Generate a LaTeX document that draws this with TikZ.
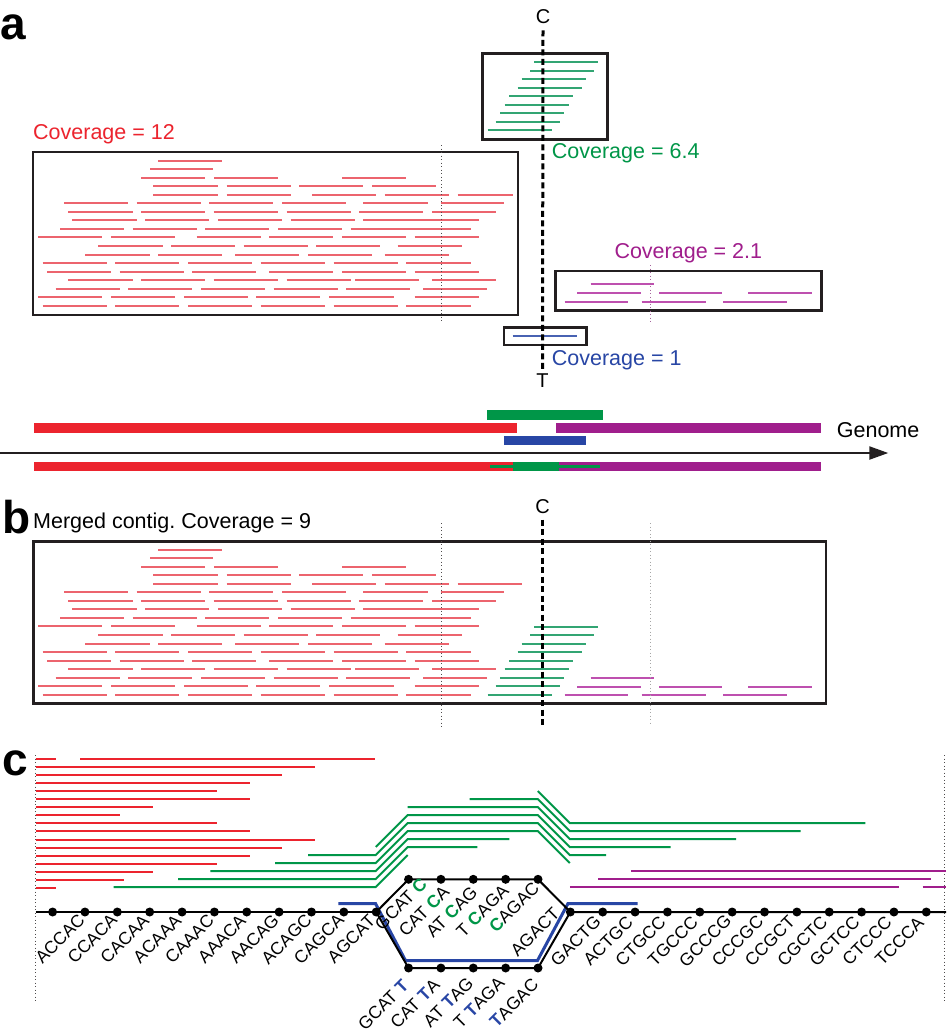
\documentclass[tikz,border=0pt]{standalone}
\usepackage{fontspec}
\setmainfont{Liberation Sans}
\usetikzlibrary{arrows.meta}
\definecolor{rd}{RGB}{236,36,46}
\definecolor{rdread}{RGB}{236,100,110}
\definecolor{gn}{RGB}{0,150,72}
\definecolor{gnread}{RGB}{50,165,115}
\definecolor{mg}{RGB}{160,30,140}
\definecolor{mgread}{RGB}{190,80,175}
\definecolor{bl}{RGB}{40,70,165}
\definecolor{dk}{RGB}{35,31,32}
\frenchspacing
\begin{document}
\begin{tikzpicture}[x=1pt,y=-1pt,
  cbox/.style={draw=dk,line width=2.8pt},
  rread/.style={draw=rdread,line width=1.8pt},
  gread/.style={draw=gnread,line width=1.8pt},
  mread/.style={draw=mgread,line width=1.8pt},
  bread/.style={draw=bl!85,line width=1.8pt},
  cdash/.style={draw=black,line width=3pt,dash pattern=on 6pt off 3.5pt},
  vdot/.style={draw=dk!80,line width=0.9pt,dash pattern=on 1pt off 2.5pt},
  cov/.style={font=\fontsize{21.5}{24}\selectfont,anchor=base west,inner sep=0pt},
  plabel/.style={font=\fontsize{46}{50}\selectfont\bfseries,anchor=base west,inner sep=0pt},
  letter/.style={font=\fontsize{20}{22}\selectfont,anchor=base,inner sep=0pt},
  kdot/.style={circle,fill=black,inner sep=0pt,minimum size=9pt},
  kmer/.style={font=\fontsize{17.5}{20}\selectfont,rotate=45,inner sep=0pt},
  gline/.style={draw=black,line width=2pt},
  cred/.style={draw=rd,line width=2pt},
  cgreen/.style={draw=gn,line width=2pt},
  cmag/.style={draw=mg,line width=2pt},
  bpath/.style={draw=bl,line width=3pt},
]
\useasboundingbox (0,0) rectangle (946,1034);
\fill[white] (0,0) rectangle (946,1034);

% ---------------- red reads (panel a offset 0, panel b offset 389)
\foreach \off/\lastend in {0/1479,389/1505}{
 \foreach \r/\segs in {1/{415/607},2/{390/580},3/{363/555,582/773,967/1158},
  4/{400/594,620/812,838/1030,1056/1248},
  5/{400/594,620/812,876/1068,1094/1287,1313/\lastend},
  6/{132/324,350/542,568/760,786/979,1030/1223,1262/1453},
  7/{145/338,363/555,581/774,800/992,1018/1210,1236/1428},
  8/{157/350,375/568,594/786,812/1004,1030/1378},
  9/{120/312,338/530,555/748,774/967,992/1352},
  10/{55/247,273/466,530/722,748/940,966/1159,1184/1378},
  11/{235/428,453/645,671/863,888/1081,1133/1326},
  12/{196/389,414/607,646/838,864/1056,1094/1287},
  13/{68/260,286/478,505/697,722/914,941/1133,1158/1352},
  14/{81/273,299/491,517/709,748/940,966/1159,1184/1378},
  15/{145/338,363/555,581/774,800/992,1005/1198,1236/1428},
  16/{107/299,325/517,543/735,761/953,979/1171,1210/1402},
  17/{55/247,273/466,492/684,709/901,928/1121,1184/1378},
  18/{68/260,286/478,505/697,722/914,941/1133,1158/1352}}{
  \pgfmathsetmacro{\yy}{round(160.7+8.53*(\r-1)+\off)}
  \foreach \a/\b in \segs {
   \draw[rread] ({20+\a/3},\yy) -- ({20+\b/3},\yy);
  }
 }
}
% green reads
\foreach \off in {0,564.5}{
 \foreach \i/\a/\b in {0/193/385,1/180/373,2/155/347,3/143/335,4/117/309,5/104/296,6/90/283,7/77/270,8/53/245}{
  \pgfmathsetmacro{\yy}{round(62.3+8.5*\i+\off)}
  \draw[gread] ({470+\a/3},\yy) -- ({470+\b/3},\yy);
 }
}
% magenta reads
\foreach \off in {0,393.8}{
 \foreach \i/\a/\b in {0/362/552,1/322/512,1/567/757,1/835/1027,2/284/475,2/515/707,2/760/950}{
  \pgfmathsetmacro{\yy}{round(284.3+8.6*\i+\off)}
  \draw[mread] ({470+\a/3},\yy) -- ({470+\b/3},\yy);
 }
}
% blue read
\draw[bread] (512.7,336) -- (577.3,336);

% ---------------- panel a boxes and labels
\node[plabel] (la) at (0,39) {a};
\draw[cbox] (33,152) rectangle (518,315);
\draw[cbox] (482.7,53.3) rectangle (607.3,139.3);
\draw[cbox] (555.7,271) rectangle (821.7,310.7);
\draw[cbox] (504,327.3) rectangle (586.3,345);
\node[cov,text=rd] (cov12) at (33,139) {Coverage = 12};
\node[cov,text=gn] (cov64) at (551.7,158.3) {Coverage = 6.4};
\node[cov,text=mg] (cov21) at (614.3,258) {Coverage = 2.1};
\node[cov,text=bl] (cov1) at (551.7,365) {Coverage = 1};
\draw[vdot] (441,145) -- (441,323);
\draw[vdot,draw=mgread!60!gray] (650,265) -- (650,323);
\node[letter] (Ca) at (543,23) {C};
\node[letter] (Ta) at (542.5,387) {T};
\draw[cdash] ([yshift=-7pt]Ca.south) -- ([yshift=2pt]Ta.north);

% ---------------- genome bars
\fill[gn] (487,410) rectangle (603,420);
\fill[rd] (34,423) rectangle (517,433);
\fill[mg] (556,423) rectangle (821,433);
\fill[bl] (504,436) rectangle (586,445);
\coordinate (g0) at (0,453);
\coordinate (g1) at (888.3,453);
\draw[line width=2.2pt,dk,-{Triangle[length=19pt,width=13pt]}] (g0) -- (g1);
\node[cov] (genome) at (836.7,437.3) {Genome};
\fill[rd] (34,462) rectangle (513.3,471);
\fill[gn] (513.3,462) rectangle (559.3,471);
\fill[mg] (559.3,462) rectangle (821,471);
\draw[gn,line width=3pt] (490,466.5) -- (600,466.5);

% ---------------- panel b
\node[plabel] (lb) at (2,533) {b};
\node[cov] (merged) at (33,528.3) {Merged contig. Coverage = 9};
\draw[cbox] (33.3,541.7) rectangle (826,703.3);
\draw[vdot] (441,523) -- (441,727);
\draw[vdot,draw=gray!70] (650,523) -- (650,725);
\node[letter] (Cb) at (542.5,513.3) {C};
\draw[cdash] ([yshift=-6pt]Cb.south) -- (542.5,728);

% ---------------- panel c
\node[plabel] (lc) at (2,775) {c};
\draw[vdot] (35.7,755) -- (35.7,1003);
\draw[vdot] (944.5,755) -- (944.5,1003);
% red reads
\draw[cred] (35.7,759) -- (55.7,759);
\draw[cred] (80,759) -- (375.3,759);
\foreach \r/\e in {2/314.7,3/282.3,4/250,5/217.3,6/250,7/152.7,8/120.3,9/217.3,10/250,11/314.7,12/282.3,13/250,14/217.3,15/152.7,16/124.3,17/55.7}{
 \pgfmathsetmacro{\yy}{round(758.7+8.08*(\r-1))}
 \draw[cred] (35.7,\yy) -- (\e,\yy);
}
% green reads
\draw[cgreen] (537.8,791) -- (569.8,823) -- (865.3,823);
\draw[cgreen] (469.5,799) -- (537.8,799) -- (569.8,831) -- (800.6,831);
\draw[cgreen] (407.7,807) -- (537.8,807) -- (569.8,839) -- (736,839);
\draw[cgreen] (375.8,847) -- (407.7,815) -- (537.8,815) -- (569.8,847) -- (670.7,847);
\draw[cgreen] (308.2,855) -- (375.8,855) -- (407.7,823) -- (537.8,823) -- (569.8,855) -- (606,855);
\draw[cgreen] (275,863) -- (375.8,863) -- (407.7,831) -- (537.8,831) -- (569.8,863);
\draw[cgreen] (210.3,871) -- (375.8,871) -- (407.7,839) -- (509.4,839);
\draw[cgreen] (178.2,879) -- (375.8,879) -- (407.7,847) -- (477.3,847);
\draw[cgreen] (113.6,887) -- (375.8,887) -- (407.7,855);
% magenta reads
\draw[cmag] (631.4,871) -- (945.6,871);
\draw[cmag] (598.2,879) -- (930.5,879);
\draw[cmag] (569.8,887) -- (898.5,887);
\draw[cmag] (922.7,887) -- (945.6,887);

% graph nodes
\foreach \i in {0,...,10,16,17,...,27}{
 \coordinate (m\i) at ({52.6+32.36*\i},912);
}
\foreach \i in {11,...,15}{
 \coordinate (t\i) at ({52.6+32.36*\i},879.3);
 \coordinate (b\i) at ({52.6+32.36*\i},968);
}
\coordinate (cL) at (35.7,912);
\coordinate (cR) at (946,912);
% blue path
\coordinate (p0) at (338.3,903.5);
\coordinate (p1) at (375.5,903.5);
\coordinate (p2) at (405.5,960.5);
\coordinate (p3) at (537.5,960.5);
\coordinate (p4) at (568,903.5);
\coordinate (p5) at (637.5,903.5);
\draw[bpath] (p0) -- (p1) -- (p2) -- (p3) -- (p4) -- (p5);
% graph edges
\draw[gline] (cL) -- (m10);
\draw[gline] (m10) -- (t11) -- (t15) -- (m16) -- (cR);
\draw[gline] (m10) -- (b11) -- (b15) -- (m16);
\foreach \i in {0,...,10,16,17,...,27}{ \node[kdot] (dm\i) at (m\i) {}; }
\foreach \i in {11,...,15}{ \node[kdot] (dt\i) at (t\i) {}; \node[kdot] (db\i) at (b\i) {}; }

% k-mer labels
\foreach \j/\s in {0/ACCAC,1/CCACA,2/CACAA,3/ACAAA,4/CAAAC,5/AAACA,6/AACAG,7/ACAGC,8/CAGCA,9/AGCAT}{
 \node[kmer] (kl\j) at ({52.6+32.36*(\j+1)-25},939) {\s};
}
\foreach \k/\s in {0/GACTG,1/ACTGC,2/CTGCC,3/TGCCC,4/GCCCG,5/CCCGC,6/CCGCT,7/CGCTC,8/GCTCC,9/CTCCC,10/TCCCA}{
 \node[kmer] (kr\k) at ({52.6+32.36*(\k+17)-27},941) {\s};
}
\node[kmer] (ku1) at (400.8,904) {GCAT {\color{gn}\bfseries C}};
\node[kmer] (ku2) at (424,911) {CAT {\color{gn}\bfseries C}A};
\node[kmer] (ku3) at (451.7,911.7) {AT {\color{gn}\bfseries C}AG};
\node[kmer] (ku4) at (482.5,910.8) {T {\color{gn}\bfseries C}AGA};
\node[kmer] (ku5) at (514,907.5) {{\color{gn}\bfseries C}AGAC};
\node[kmer] (kagact) at (535,931.7) {AGACT};
\node[kmer] (kd1) at (383.3,1005) {GCAT {\color{bl}\bfseries T}};
\node[kmer] (kd2) at (415,1004) {CAT {\color{bl}\bfseries T}A};
\node[kmer] (kd3) at (448.3,1002) {AT {\color{bl}\bfseries T}AG};
\node[kmer] (kd4) at (479,1002.5) {T {\color{bl}\bfseries T}AGA};
\node[kmer] (kd5) at (514,1003) {{\color{bl}\bfseries T}AGAC};
\end{tikzpicture}
\end{document}
